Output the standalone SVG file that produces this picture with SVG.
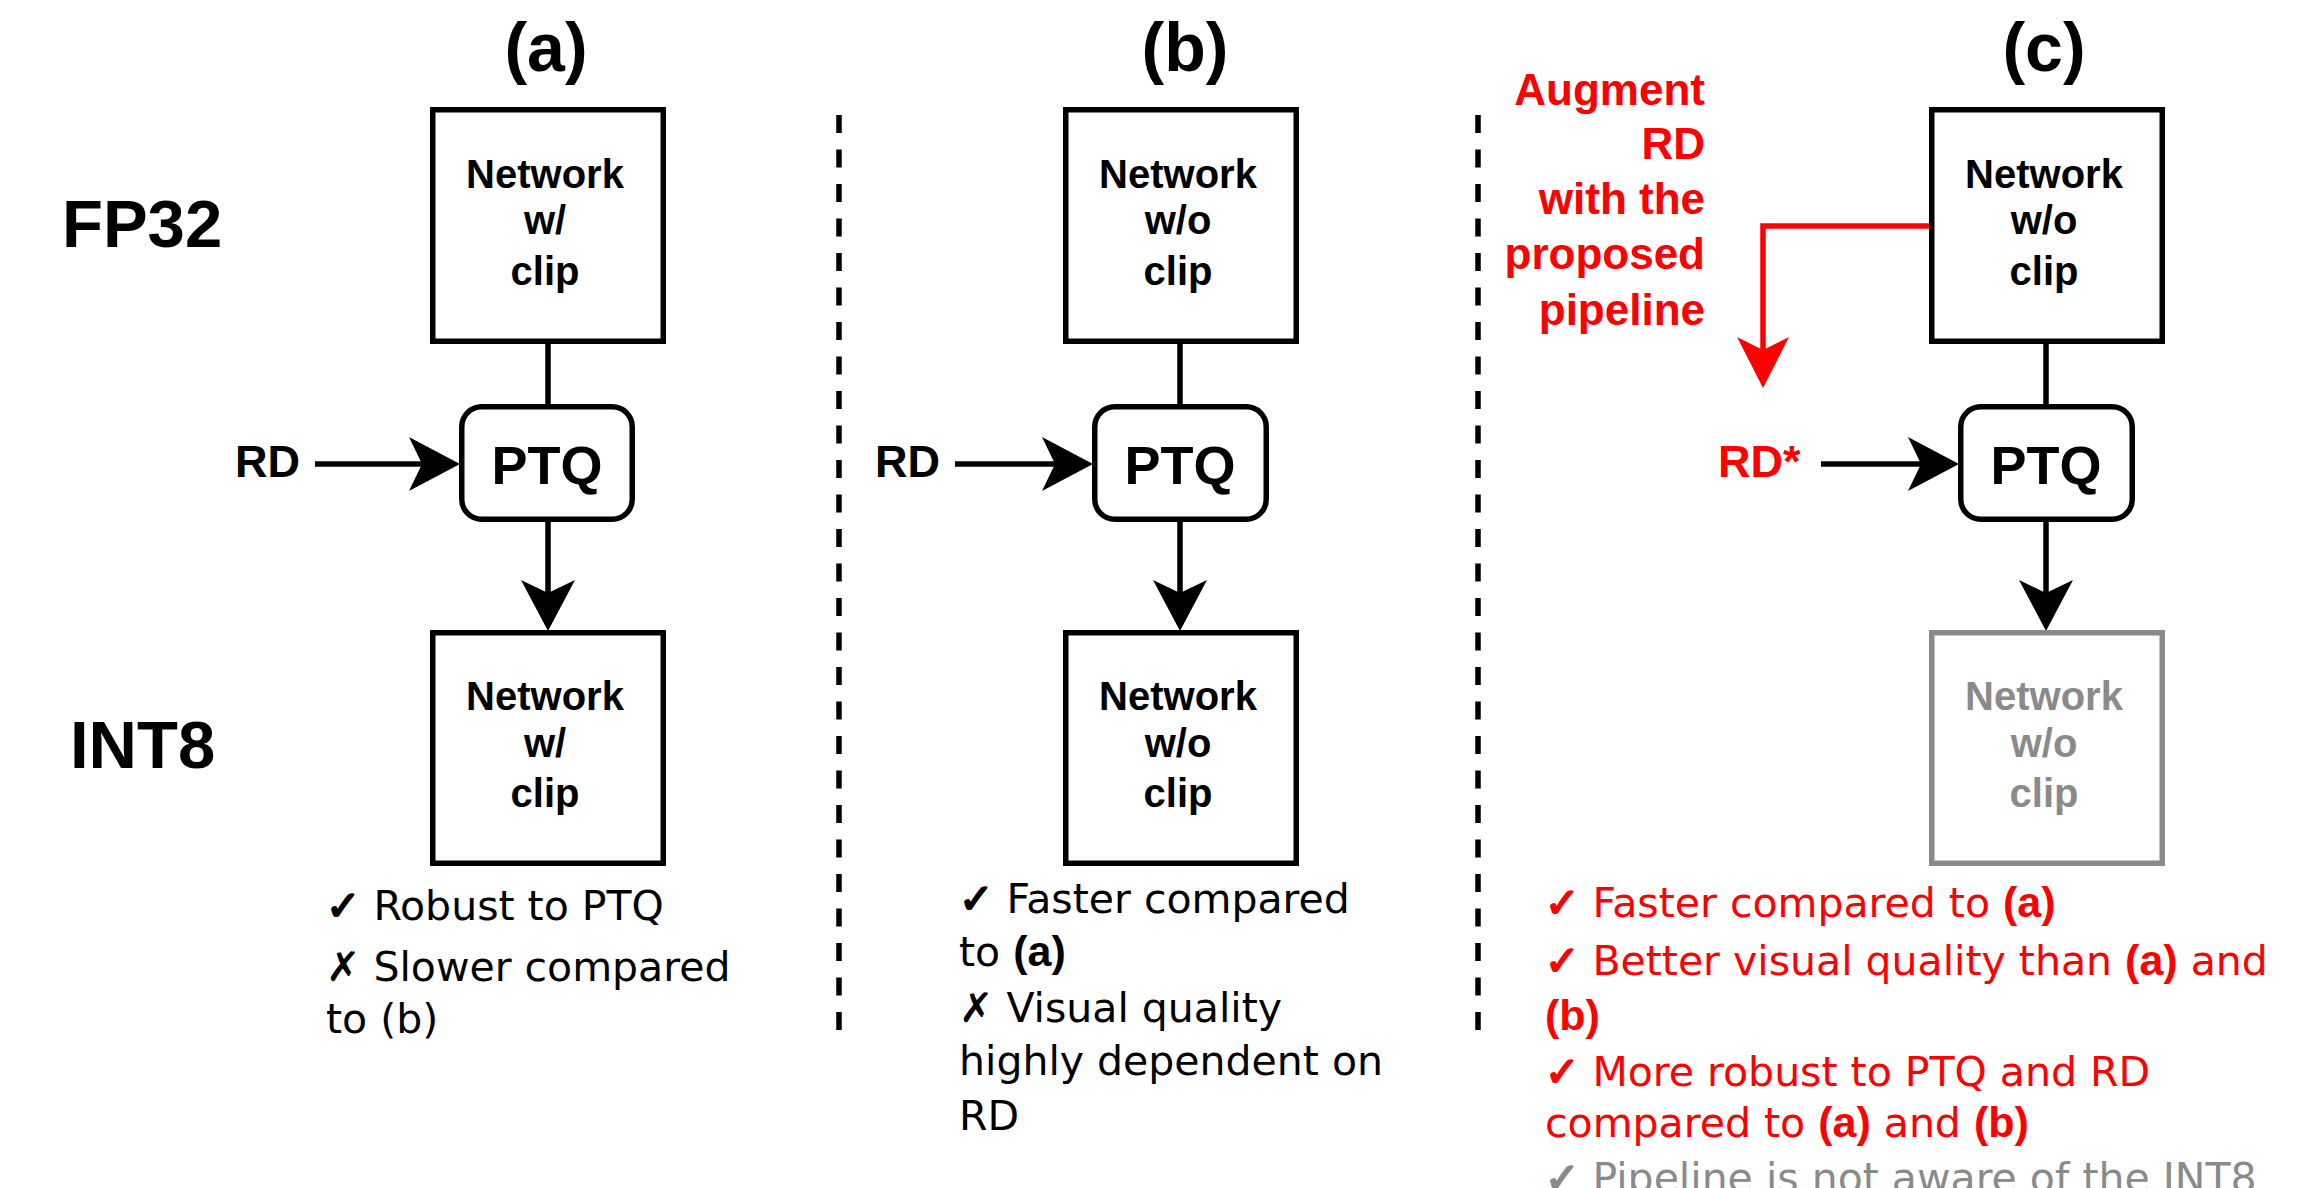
<svg xmlns="http://www.w3.org/2000/svg" width="2302" height="1188" viewBox="0 0 2302 1188">
  <style>
    .bg { fill: #ffffff; }
    .net { fill: #ffffff; stroke: #000000; stroke-width: 5.5; }
    .net.ghost { stroke: #8a8a8a; }
    .ptq { fill: #ffffff; stroke: #000000; stroke-width: 5.5; }
    .lbl { font-family: "Liberation Sans", Arial, sans-serif; font-weight: bold; fill: #000000; }
    .net-t { font-size: 40px; text-anchor: middle; }
    .ghost-t { fill: #8a8a8a; }
    .ptq-t { font-size: 54px; text-anchor: middle; }
    .title { font-size: 68px; text-anchor: middle; }
    .row { font-size: 67px; }
    .rd { font-size: 45px; }
    .red { fill: #ff0000; }
    .note { font-family: "DejaVu Sans", Verdana, sans-serif; font-size: 41px; fill: #000000; }
    .note.red { fill: #ff0000; }
    .note.grey { fill: #8a8a8a; }
    .mk { stroke: #000000; stroke-width: 2; }
    .note.red .mk { stroke: #ff0000; }
    .note.grey .mk { stroke: #8a8a8a; }
    .b { font-family: "Liberation Sans", Arial, sans-serif; font-weight: bold; font-size: 43px; }
    .wire { fill: none; stroke: #000000; stroke-width: 5.5; }
    .wire.red { stroke: #ff0000; fill: none; }
    .sep { fill: none; stroke: #000000; stroke-width: 5.5; stroke-dasharray: 18 16.5; }
  </style>
  <defs>
    <marker id="head" viewBox="0 -27 51 54" refX="13" refY="0" markerWidth="51" markerHeight="54" markerUnits="userSpaceOnUse" orient="auto">
      <path d="M51,0 L0,-27 L13,0 L0,27 Z" fill="#000000"/>
    </marker>
    <marker id="head-red" viewBox="0 -26 51 52" refX="13" refY="0" markerWidth="51" markerHeight="52" markerUnits="userSpaceOnUse" orient="auto">
      <path d="M51,0 L0,-26 L13,0 L0,26 Z" fill="#ff0000"/>
    </marker>
  </defs>

  <rect class="bg" x="0" y="0" width="2302" height="1188"/>

  <!-- column separators -->
  <g id="separators">
    <line class="sep" x1="839" y1="115" x2="839" y2="1038"/>
    <line class="sep" x1="1478" y1="115" x2="1478" y2="1038"/>
  </g>

  <!-- row and column headings -->
  <g id="headings">
    <text class="lbl title" x="546" y="71">(a)</text>
    <text class="lbl title" x="1185" y="71">(b)</text>
    <text class="lbl title" x="2044" y="71">(c)</text>
    <text class="lbl row" x="62" y="247">FP32</text>
    <text class="lbl row" x="70" y="768">INT8</text>
  </g>

  <!-- connectors -->
  <g id="connectors">
    <line class="wire" x1="548" y1="344" x2="548" y2="404"/>
    <line class="wire" x1="548" y1="522" x2="548" y2="593" marker-end="url(#head)"/>
    <line class="wire" x1="315" y1="464" x2="422" y2="464" marker-end="url(#head)"/>

    <line class="wire" x1="1180" y1="344" x2="1180" y2="404"/>
    <line class="wire" x1="1180" y1="522" x2="1180" y2="593" marker-end="url(#head)"/>
    <line class="wire" x1="955" y1="464" x2="1055" y2="464" marker-end="url(#head)"/>

    <line class="wire" x1="2046" y1="344" x2="2046" y2="404"/>
    <line class="wire" x1="2046" y1="522" x2="2046" y2="593" marker-end="url(#head)"/>
    <line class="wire" x1="1821" y1="464" x2="1921" y2="464" marker-end="url(#head)"/>

    <path class="wire red" d="M1929,226 H1763 V350" marker-end="url(#head-red)"/>
  </g>

  <!-- column (a) -->
  <g id="a-fp32">
    <rect class="net" x="432.75" y="109.75" width="230.5" height="231.5"/>
    <text class="lbl net-t" x="545" y="188">Network</text>
    <text class="lbl net-t" x="545" y="234">w/</text>
    <text class="lbl net-t" x="545" y="285">clip</text>
  </g>
  <g id="a-ptq">
    <rect class="ptq" x="461.75" y="406.75" width="170.5" height="112.5" rx="20"/>
    <text class="lbl ptq-t" x="547" y="484">PTQ</text>
  </g>
  <g id="a-rd">
    <text class="lbl rd" x="235" y="477">RD</text>
  </g>
  <g id="a-int8">
    <rect class="net" x="432.75" y="632.75" width="230.5" height="230.5"/>
    <text class="lbl net-t" x="545" y="710">Network</text>
    <text class="lbl net-t" x="545" y="757">w/</text>
    <text class="lbl net-t" x="545" y="807">clip</text>
  </g>
  <g id="a-notes">
    <text class="note" x="326" y="920"><tspan class="mk">✓</tspan> Robust to PTQ</text>
    <text class="note" x="326" y="981">✗ Slower compared</text>
    <text class="note" x="326" y="1033">to (b)</text>
  </g>

  <!-- column (b) -->
  <g id="b-fp32">
    <rect class="net" x="1065.75" y="109.75" width="230.5" height="231.5"/>
    <text class="lbl net-t" x="1178" y="188">Network</text>
    <text class="lbl net-t" x="1178" y="234">w/o</text>
    <text class="lbl net-t" x="1178" y="285">clip</text>
  </g>
  <g id="b-ptq">
    <rect class="ptq" x="1094.75" y="406.75" width="171.5" height="112.5" rx="20"/>
    <text class="lbl ptq-t" x="1180" y="484">PTQ</text>
  </g>
  <g id="b-rd">
    <text class="lbl rd" x="875" y="477">RD</text>
  </g>
  <g id="b-int8">
    <rect class="net" x="1065.75" y="632.75" width="230.5" height="230.5"/>
    <text class="lbl net-t" x="1178" y="710">Network</text>
    <text class="lbl net-t" x="1178" y="757">w/o</text>
    <text class="lbl net-t" x="1178" y="807">clip</text>
  </g>
  <g id="b-notes">
    <text class="note" x="959" y="913"><tspan class="mk">✓</tspan> Faster compared</text>
    <text class="note" x="959" y="966">to <tspan class="b">(a)</tspan></text>
    <text class="note" x="959" y="1022">✗ Visual quality</text>
    <text class="note" x="959" y="1075">highly dependent on</text>
    <text class="note" x="959" y="1130">RD</text>
  </g>

  <!-- column (c) -->
  <g id="c-fp32">
    <rect class="net" x="1931.75" y="109.75" width="230.5" height="231.5"/>
    <text class="lbl net-t" x="2044" y="188">Network</text>
    <text class="lbl net-t" x="2044" y="234">w/o</text>
    <text class="lbl net-t" x="2044" y="285">clip</text>
  </g>
  <g id="c-augment">
    <text class="lbl red" font-size="44" text-anchor="end" x="1705" y="105">Augment</text>
    <text class="lbl red" font-size="44" text-anchor="end" x="1705" y="159">RD</text>
    <text class="lbl red" font-size="44" text-anchor="end" x="1705" y="214">with the</text>
    <text class="lbl red" font-size="44" text-anchor="end" x="1705" y="269">proposed</text>
    <text class="lbl red" font-size="44" text-anchor="end" x="1705" y="325">pipeline</text>
  </g>
  <g id="c-ptq">
    <rect class="ptq" x="1960.75" y="406.75" width="171.5" height="112.5" rx="20"/>
    <text class="lbl ptq-t" x="2046" y="484">PTQ</text>
  </g>
  <g id="c-rd">
    <text class="lbl rd red" x="1718" y="477">RD*</text>
  </g>
  <g id="c-int8">
    <rect class="net ghost" x="1931.75" y="632.75" width="230.5" height="230.5"/>
    <text class="lbl net-t ghost-t" x="2044" y="710">Network</text>
    <text class="lbl net-t ghost-t" x="2044" y="757">w/o</text>
    <text class="lbl net-t ghost-t" x="2044" y="807">clip</text>
  </g>
  <g id="c-notes">
    <text class="note red" x="1545" y="917"><tspan class="mk">✓</tspan> Faster compared to <tspan class="b">(a)</tspan></text>
    <text class="note red" x="1545" y="975"><tspan class="mk">✓</tspan> Better visual quality than <tspan class="b">(a)</tspan> and</text>
    <text class="note red" x="1545" y="1030"><tspan class="b">(b)</tspan></text>
    <text class="note red" x="1545" y="1086"><tspan class="mk">✓</tspan> More robust to PTQ and RD</text>
    <text class="note red" x="1545" y="1137">compared to <tspan class="b">(a)</tspan> and <tspan class="b">(b)</tspan></text>
    <text class="note grey" x="1545" y="1192"><tspan class="mk">✓</tspan> Pipeline is not aware of the INT8</text>
  </g>
</svg>
